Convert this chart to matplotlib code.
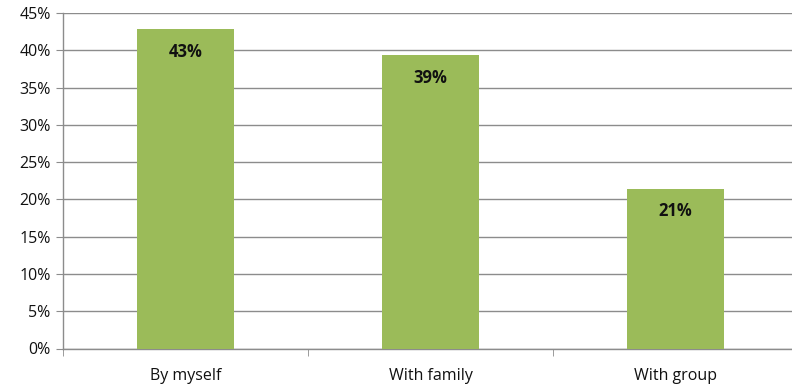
import matplotlib
matplotlib.use("Agg")
import matplotlib.pyplot as plt
from matplotlib.ticker import FuncFormatter, FixedLocator

categories = ["By myself", "With family", "With group"]
values = [42.8, 39.3, 21.4]
labels = ["43%", "39%", "21%"]
yticks = [0, 5, 10, 15, 20, 25, 30, 35, 40, 45]

plt.rcParams['font.family'] = ['Open Sans', 'DejaVu Sans']

W, H = 792, 385
fig = plt.figure(figsize=(W / 100, H / 100), dpi=100)
x0, x1 = 63, 798
y0, y1 = 348.5, 13
ax = fig.add_axes([x0 / W, 1 - y0 / H, (x1 - x0) / W, (y0 - y1) / H])

xs = list(range(len(categories)))
ax.bar(xs, values, width=0.396, color="#9BBB59", zorder=3)
for x, v, lab in zip(xs, values, labels):
    ax.text(x, v - 3.0, lab, ha="center", va="center", fontsize=12,
            fontweight="bold", color="#111111", zorder=4)

ax.set_xlim(-0.5, len(categories) - 0.5)
ax.set_ylim(0, 45)
ax.set_yticks(yticks)
ax.yaxis.set_major_formatter(FuncFormatter(lambda v, p: f"{int(v)}%"))
ax.grid(axis="y", color="#8c8c8c", linewidth=1.0, zorder=0)
ax.set_axisbelow(True)

ax.set_xticks(xs)
ax.set_xticklabels(categories)
ax.xaxis.set_minor_locator(FixedLocator([-0.5, 0.5, 1.5, 2.5]))
ax.tick_params(axis="x", which="major", length=0, pad=14, labelsize=11.5, labelcolor="#111111")
ax.tick_params(axis="x", which="minor", length=5, color="#8c8c8c", direction="out")
ax.tick_params(axis="y", length=5, color="#8c8c8c", labelsize=11.5, labelcolor="#111111", pad=4)

for s in ["top", "right"]:
    ax.spines[s].set_visible(False)
for s in ["left", "bottom"]:
    ax.spines[s].set_color("#8c8c8c")
    ax.spines[s].set_linewidth(1.0)

fig.savefig("out.png", dpi=100)
